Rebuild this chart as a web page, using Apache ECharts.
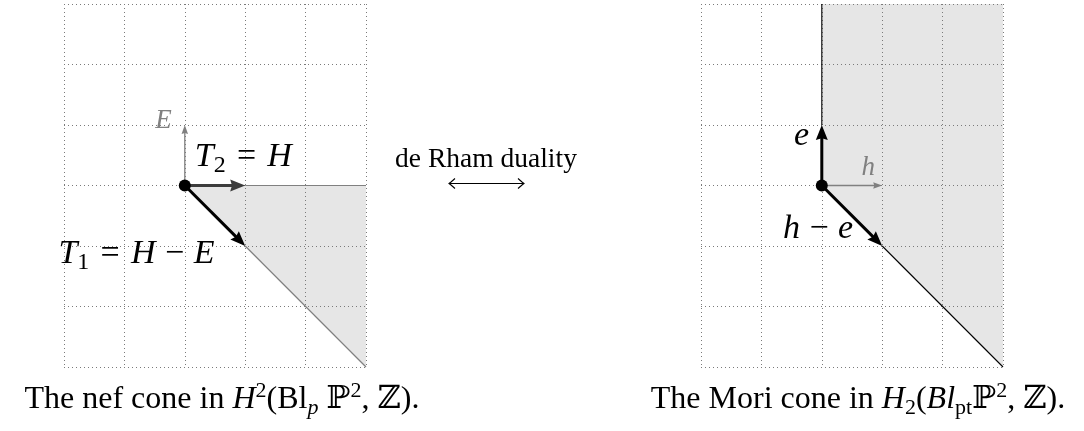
<!DOCTYPE html>
<html><head><meta charset="utf-8">
<script src="https://cdn.jsdelivr.net/npm/echarts@6/dist/echarts.min.js"></script>
<style>html,body{margin:0;padding:0;background:#fff}#c{width:1084px;height:431px}</style>
</head><body><div id="c"></div>
<script>
// ---------- data ----------
const xRange = [-2, 3];
const yRange = [-3, 3];
const origin = [[0, 0]];

const nefCone = [[0, 0], [3, 0], [3, -3]];
const nefRays = [[1, 0, 3, 0], [1, -1, 3, -3]];
const nefThinArrows = [[0, 0, 0, 1]];                 // E
const nefThickArrows = [[0, 0, 1, 0], [0, 0, 1, -1]]; // T2 = H, T1 = H - E
const nefLabelAt = [[0, 1], [0, 0], [1, -1]];
const nefLabels = ['{it|E}', '{it|T}{sub|2}{op|=}{it|H}', '{it|T}{sub|1}{op|=}{it|H}{bin|−}{it|E}'];

const moriCone = [[0, 3], [0, 0], [3, -3], [3, 3]];
const moriRays = [[0, 1, 0, 3], [1, -1, 3, -3]];
const moriThinArrows = [[0, 0, 1, 0]];                 // h
const moriThickArrows = [[0, 0, 0, 1], [0, 0, 1, -1]]; // e, h - e
const moriLabelAt = [[0, 1], [0, 0], [1, -1]];
const moriLabels = ['{it|e}', '{it|h}', '{it|h}{bin|−}{it|e}'];

const middleText = 'de Rham duality';
const captionLeft = '{rm|The nef cone in }{it|H}{sup|2}{rm|(Bl}{subi|p}{rm| ℙ}{sup|2}{rm|, ℤ).}';
const captionRight = '{rm|The Mori cone in }{it|H}{sub|2}{rm|(}{it|Bl}{sub|pt}{rm|ℙ}{sup|2}{rm|, ℤ).}';

// ---------- styles ----------
const SERIF = '"Liberation Serif", "DejaVu Serif", serif';
const GRID_COLOR = '#7a7a7a';
const SHADE = '#e6e6e6';
const GRAY = '#808080';

function richFor(S, color) {
  const base = { fontFamily: SERIF, fill: color };
  const small = Math.round(S * 0.7);
  return {
    it: Object.assign({}, base, { fontSize: S, fontStyle: 'italic', lineHeight: S }),
    rm: Object.assign({}, base, { fontSize: S, lineHeight: S }),
    op: Object.assign({}, base, { fontSize: S, lineHeight: S, padding: [0, S * 0.33, 0, S * 0.33] }),
    bin: Object.assign({}, base, { fontSize: S, lineHeight: S, padding: [0, S * 0.28, 0, S * 0.28] }),
    sub: Object.assign({}, base, { fontSize: small, lineHeight: S * 0.45, padding: [S * 0.5, 0, 0, 0] }),
    subi: Object.assign({}, base, { fontSize: small, fontStyle: 'italic', lineHeight: S * 0.45, padding: [S * 0.5, 0, 0, 0] }),
    sup: Object.assign({}, base, { fontSize: small, lineHeight: S * 0.45, padding: [0, 0, S * 0.52, 0] })
  };
}

// label styles (pixel offsets from the anchor point)
const nefLabelStyle = [
  { dx: -13, dy: -4.5, align: 'right', size: 27, color: GRAY },
  { dx: 10, dy: -28.7, align: 'left', size: 34, color: '#000' },
  { dx: -30.7, dy: 8, align: 'right', size: 34, color: '#000' }
];
const moriLabelStyle = [
  { dx: -12.7, dy: 11.5, align: 'right', size: 34, color: '#000' },
  { dx: 53.3, dy: -18, align: 'right', size: 27, color: GRAY },
  { dx: -29, dy: -16.7, align: 'right', size: 34, color: '#000' }
];

// ---------- render helpers ----------
function polygonSeries(gi, pts) {
  return {
    type: 'custom', xAxisIndex: gi, yAxisIndex: gi, z: -1, silent: true,
    data: [pts[0]], encode: { x: 0, y: 1 },
    renderItem: (params, api) => ({
      type: 'polygon',
      shape: { points: pts.map(p => api.coord(p)) },
      style: { fill: SHADE }
    })
  };
}
function raySeries(gi, segs, color, width) {
  return {
    type: 'custom', xAxisIndex: gi, yAxisIndex: gi, z: 3, silent: true,
    data: segs, encode: { x: [0, 2], y: [1, 3] },
    renderItem: (params, api) => {
      const a = api.coord([api.value(0), api.value(1)]);
      const b = api.coord([api.value(2), api.value(3)]);
      return { type: 'line', shape: { x1: a[0], y1: a[1], x2: b[0], y2: b[1] }, style: { stroke: color, lineWidth: width } };
    }
  };
}
function arrowSeries(gi, segs, color, width, headLen, headW, z) {
  return {
    type: 'custom', xAxisIndex: gi, yAxisIndex: gi, z: z, silent: true,
    data: segs, encode: { x: [0, 2], y: [1, 3] },
    renderItem: (params, api) => {
      const a = api.coord([api.value(0), api.value(1)]);
      const b = api.coord([api.value(2), api.value(3)]);
      const dx = b[0] - a[0], dy = b[1] - a[1];
      const L = Math.hypot(dx, dy);
      const ux = dx / L, uy = dy / L, nx = -uy, ny = ux;
      const bx = b[0] - ux * headLen, by = b[1] - uy * headLen;
      const notch = headLen * 0.12;
      return {
        type: 'group', children: [
          { type: 'line', shape: { x1: a[0], y1: a[1], x2: bx + ux * notch * 2, y2: by + uy * notch * 2 },
            style: { stroke: color, lineWidth: width } },
          { type: 'polygon', shape: { points: [
              [b[0], b[1]],
              [bx + nx * headW / 2, by + ny * headW / 2],
              [bx + ux * notch, by + uy * notch],
              [bx - nx * headW / 2, by - ny * headW / 2]
            ] }, style: { fill: color } }
        ]
      };
    }
  };
}
function labelSeries(gi, anchors, texts, styles) {
  return {
    type: 'custom', xAxisIndex: gi, yAxisIndex: gi, z: 20, silent: true,
    data: anchors, encode: { x: 0, y: 1 },
    renderItem: (params, api) => {
      const i = params.dataIndex;
      const st = styles[i];
      const p = api.coord([api.value(0), api.value(1)]);
      return {
        type: 'text', x: p[0] + st.dx, y: p[1] + st.dy,
        style: {
          text: texts[i], rich: richFor(st.size, st.color),
          fontFamily: SERIF, fontSize: st.size, fill: st.color,
          align: st.align, verticalAlign: 'middle'
        }
      };
    }
  };
}

function axisPair(gi) {
  const common = {
    gridIndex: gi, type: 'value', interval: 1,
    axisLine: { show: false }, axisTick: { show: false }, axisLabel: { show: false },
    splitLine: { show: true, showMinLine: true, showMaxLine: true, lineStyle: { color: GRID_COLOR, width: 1, type: [1, 3] } }
  };
  return [
    Object.assign({}, common, { min: xRange[0], max: xRange[1] }),
    Object.assign({}, common, { min: yRange[0], max: yRange[1] })
  ];
}
const [x0, y0] = axisPair(0);
const [x1, y1] = axisPair(1);

const chart = echarts.init(document.getElementById('c'), null, { renderer: 'canvas' });
chart.setOption({
  animation: false,
  backgroundColor: '#fff',
  grid: [
    { left: 64, top: 4, width: 302, height: 363 },
    { left: 701, top: 4, width: 302, height: 363 }
  ],
  xAxis: [x0, x1],
  yAxis: [y0, y1],
  series: [
    polygonSeries(0, nefCone),
    raySeries(0, nefRays, GRAY, 1.2),
    arrowSeries(0, nefThinArrows, GRAY, 1.3, 9, 6.5, 4),
    arrowSeries(0, nefThickArrows.slice(0, 1), '#3c3c3c', 3, 15, 12, 5),
    arrowSeries(0, nefThickArrows.slice(1), '#000', 3, 15, 12, 5),
    { type: 'scatter', xAxisIndex: 0, yAxisIndex: 0, data: origin, symbolSize: 12, itemStyle: { color: '#000', opacity: 1 }, z: 10, silent: true },
    labelSeries(0, nefLabelAt, nefLabels, nefLabelStyle),

    polygonSeries(1, moriCone),
    raySeries(1, moriRays, '#000', 1.1),
    arrowSeries(1, moriThinArrows, GRAY, 1.3, 9, 6.5, 4),
    arrowSeries(1, moriThickArrows, '#000', 3, 15, 12, 5),
    { type: 'scatter', xAxisIndex: 1, yAxisIndex: 1, data: origin, symbolSize: 12, itemStyle: { color: '#000', opacity: 1 }, z: 10, silent: true },
    labelSeries(1, moriLabelAt, moriLabels, moriLabelStyle)
  ],
  graphic: [
    { type: 'text', x: 486, y: 160, style: { text: middleText, fontFamily: SERIF, fontSize: 27.5, fill: '#000', align: 'center', verticalAlign: 'middle' } },
    { type: 'line', shape: { x1: 449, y1: 183.5, x2: 524, y2: 183.5 }, style: { stroke: '#000', lineWidth: 1.1 } },
    { type: 'polyline', shape: { points: [[455, 178.5], [451, 182], [449, 183.5], [451, 185], [455, 188.5]] }, style: { stroke: '#000', lineWidth: 1.1, fill: null } },
    { type: 'polyline', shape: { points: [[518, 178.5], [522, 182], [524, 183.5], [522, 185], [518, 188.5]] }, style: { stroke: '#000', lineWidth: 1.1, fill: null } },
    { type: 'text', x: 222, y: 400, style: { text: captionLeft, rich: richFor(32, '#000'), fontFamily: SERIF, fontSize: 32, fill: '#000', align: 'center', verticalAlign: 'middle' } },
    { type: 'text', x: 858, y: 400, style: { text: captionRight, rich: richFor(32, '#000'), fontFamily: SERIF, fontSize: 32, fill: '#000', align: 'center', verticalAlign: 'middle' } }
  ]
});
</script>
</body></html>
